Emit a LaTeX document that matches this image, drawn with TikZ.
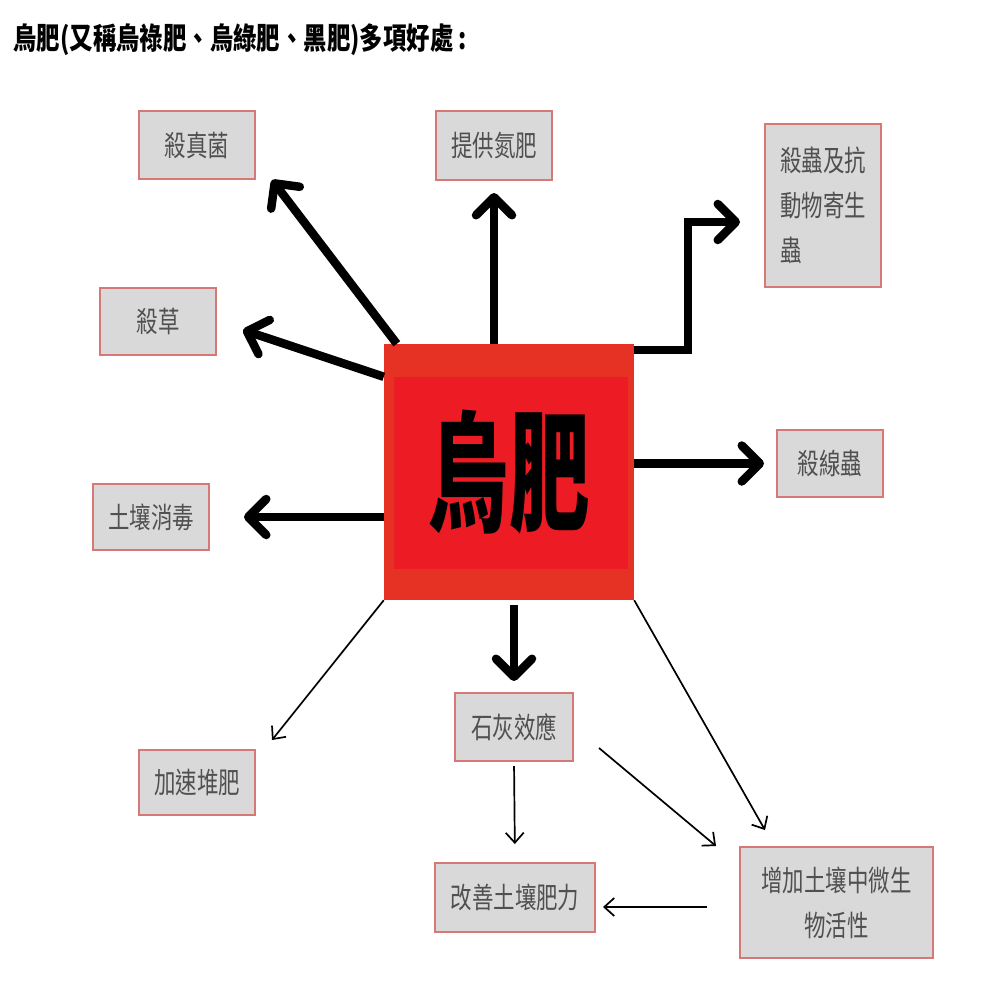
\documentclass[tikz,border=0pt]{standalone}
\usepackage{graphicx}
\usepackage{fontspec}
\newfontfamily\cjk{Noto Sans CJK TC}
\usetikzlibrary{arrows.meta, positioning}

\definecolor{boxgray}{RGB}{217,217,217}
\definecolor{boxedge}{RGB}{214,120,118}
\definecolor{outred}{RGB}{229,50,36}
\definecolor{inred}{RGB}{237,28,36}
\definecolor{txtgray}{RGB}{80,80,80}

\newcommand{\nar}[1]{\scalebox{0.74}[1]{#1}}

\begin{document}
\begin{tikzpicture}[x=1pt, y=-1pt,
    benefit/.style={draw=boxedge, fill=boxgray, line width=2pt, inner sep=0pt,
        font=\cjk\fontsize{29}{45}\selectfont, text=txtgray, align=center},
    bigarrow/.style={line width=8.5pt, -{Straight Barb[length=18pt, width=36pt, round]}},
    thinarrow/.style={line width=1.7pt, -{Straight Barb[length=10pt, width=18pt]}}]
    \fill[white] (0,0) rectangle (1000,1000);
    \useasboundingbox (0,0) rectangle (1000,1000);
    % Title
    \node[anchor=west, font=\cjk\bfseries\fontsize{30}{30}\selectfont] (title) at (10,40)
        {\scalebox{0.78}[1]{烏肥(又稱烏祿肥、烏綠肥、黑肥)多項好處 :}};
    % Centre box
    \node[fill=outred, minimum width=250pt, minimum height=256pt, inner sep=0pt] (cen) at (509,472) {};
    \fill[inred] ([xshift=10pt, yshift=-33pt]cen.north west) rectangle ([xshift=-6pt, yshift=31pt]cen.south east);
    \node[font=\cjk\bfseries\fontsize{130}{130}\selectfont] (centxt) at (cen) {\scalebox{0.62}[1]{烏肥}};
    % Benefits
    \node[benefit, minimum width=116pt, minimum height=68pt] (fungi) at (197,145) {\nar{殺真菌}};
    \node[benefit, minimum width=116pt, minimum height=69pt] (nitro) at (494,145.5) {\nar{提供氮肥}};
    \node[benefit, minimum width=116pt, minimum height=163pt, align=left] (pest) at (823,205.5)
        {\nar{殺蟲及抗}\\\nar{動物寄生}\\\nar{蟲}};
    \node[benefit, minimum width=116pt, minimum height=67pt] (weed) at (158,321.5) {\nar{殺草}};
    \node[benefit, minimum width=106pt, minimum height=67pt] (nema) at (830,463.5) {\nar{殺線蟲}};
    \node[benefit, minimum width=116pt, minimum height=66pt] (disinf) at (151,517) {\nar{土壤消毒}};
    \node[benefit, minimum width=118pt, minimum height=68pt] (lime) at (514,727) {\nar{石灰效應}};
    \node[benefit, minimum width=116pt, minimum height=65pt] (compost) at (197,782.5) {\nar{加速堆肥}};
    \node[benefit, minimum width=160pt, minimum height=69pt] (improve) at (515,897.5) {\nar{改善土壤肥力}};
    \node[benefit, minimum width=193pt, minimum height=111pt] (micro) at (836.5,902.5)
        {\nar{增加土壤中微生}\\\nar{物活性}};
    % Arrow tips
    \coordinate (tipfungi) at (272,180);
    \coordinate (tipweed) at (243,330);
    \coordinate (tippest) at (740,222);
    \coordinate (tipcompost) at (272,740);
    \coordinate (tipmicro) at (765,830);
    % Thick arrows
    \draw[bigarrow] ([xshift=13pt]cen.north west) -- (tipfungi);
    \draw[bigarrow, shorten >=12pt] (nitro.south |- cen.north) -- (nitro.south);
    \draw[bigarrow] ([yshift=-6pt]cen.north east) -- ++(54,0) |- (tippest);
    \draw[bigarrow] ([yshift=-33pt]cen.north west) -- (tipweed);
    \draw[bigarrow, shorten >=12pt] (cen.east |- nema.west) -- (nema.west);
    \draw[bigarrow, shorten >=34pt] (cen.west |- disinf.east) -- (disinf.east);
    \draw[bigarrow, shorten <=5pt, shorten >=11pt] (lime.north |- cen.south) -- (lime.north);
    % Thin arrows
    \draw[thinarrow] (cen.south west) -- (tipcompost);
    \draw[thinarrow] (cen.south east) -- (tipmicro);
    \draw[thinarrow] ([shift={(25,21)}]lime.east) -- ([xshift=-23pt]micro.north west);
    \draw[thinarrow, shorten <=4pt, shorten >=18pt] (lime.south) -- (improve.north);
    \draw[thinarrow] ([shift={(-32,4.5)}]micro.west) -- ([shift={(7,9.5)}]improve.east);
\end{tikzpicture}
\end{document}
